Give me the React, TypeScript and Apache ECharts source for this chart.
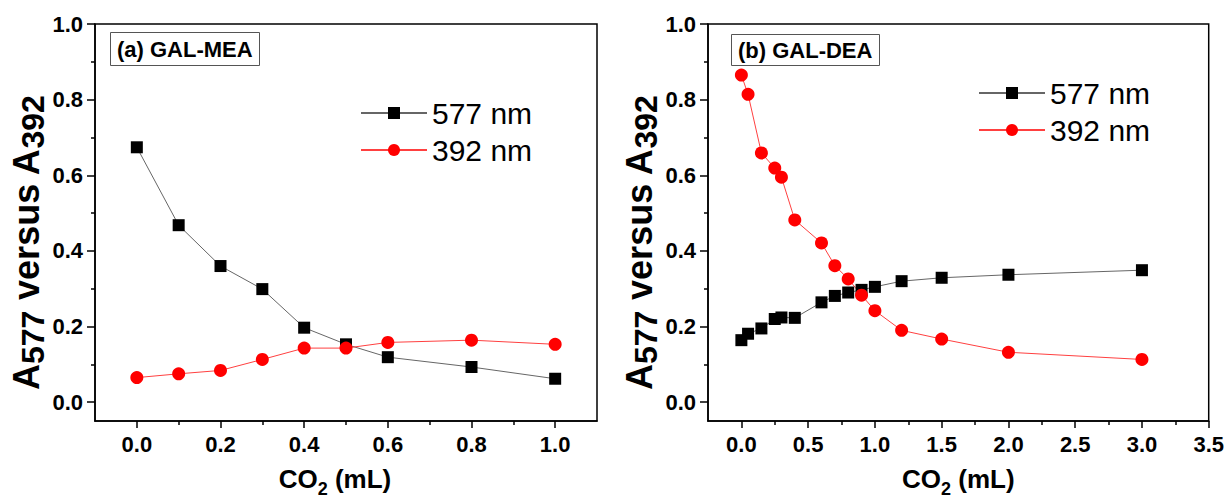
import { useEffect, useRef } from 'react';
import * as echarts from 'echarts';

const xA = [0, 0.1, 0.2, 0.3, 0.4, 0.5, 0.6, 0.8, 1.0];
const a577 = [0.674, 0.468, 0.36, 0.299, 0.197, 0.153, 0.119, 0.093, 0.062];
const a392 = [0.065, 0.075, 0.084, 0.113, 0.143, 0.143, 0.158, 0.164, 0.153];

const xB = [0, 0.05, 0.15, 0.25, 0.3, 0.4, 0.6, 0.7, 0.8, 0.9, 1.0, 1.2, 1.5, 2.0, 3.0];
const b577 = [0.164, 0.181, 0.195, 0.22, 0.224, 0.223, 0.264, 0.281, 0.29, 0.297, 0.305, 0.32, 0.329, 0.337, 0.349];
const b392 = [0.865, 0.814, 0.659, 0.619, 0.595, 0.482, 0.421, 0.361, 0.326, 0.283, 0.242, 0.19, 0.167, 0.132, 0.113];

const yTicks = [0, 0.2, 0.4, 0.6, 0.8, 1.0];
const yMinor = [0.1, 0.3, 0.5, 0.7, 0.9];
const xTicksA = [0, 0.2, 0.4, 0.6, 0.8, 1.0];
const xMinorA = [0.1, 0.3, 0.5, 0.7, 0.9];
const xTicksB = [0, 0.5, 1.0, 1.5, 2.0, 2.5, 3.0, 3.5];
const xMinorB = [0.25, 0.75, 1.25, 1.75, 2.25, 2.75, 3.25];

const seriesNames = ['577 nm', '392 nm'];
const panelTitles = ['(a) GAL-MEA', '(b) GAL-DEA'];

const FONT = "'Liberation Sans', Arial, sans-serif";

const pairs = (xs: number[], ys: number[]) => xs.map((x, i) => [x, ys[i]]);

export default function App() {
  const ref = useRef<HTMLDivElement>(null);
  useEffect(() => {
    if (!ref.current) return;
    const chart = echarts.init(ref.current, null, { renderer: 'svg' });

    const grids = [
      { left: 95, top: 24, width: 502, height: 405 },
      { left: 708, top: 24, width: 501, height: 405 },
    ];
    const xRanges = [
      { min: -0.1, max: 1.1, ticks: xTicksA, minor: xMinorA, namePad: [0, 22, 0, 0] },
      { min: -0.25, max: 3.5, ticks: xTicksB, minor: xMinorB, namePad: [0, 0, 0, 0] },
    ];

    const rich = {
      a: { fontSize: 26, fontWeight: 'bold', fontFamily: FONT, color: '#000', lineHeight: 26 },
      s: { fontSize: 18, fontWeight: 'bold', fontFamily: FONT, color: '#000', lineHeight: 18, padding: [20, 0, 0, 0] },
    };
    const richY = {
      a: { fontSize: 36, fontWeight: 'bold', fontFamily: FONT, color: '#000', lineHeight: 36 },
      s: { fontSize: 32, fontWeight: 'bold', fontFamily: FONT, color: '#000', lineHeight: 32, padding: [13, 0, 0, 0] },
    };

    const tickStyle = { color: '#000', width: 1.5 };
    const labelStyle = { fontSize: 22, fontWeight: 'bold', fontFamily: FONT, color: '#000' };

    const xAxis: any[] = [];
    const yAxis: any[] = [];
    [0, 1].forEach((g) => {
      const r = xRanges[g];
      xAxis.push({
        type: 'value', gridIndex: g, min: r.min, max: r.max, position: 'bottom',
        name: '{a|CO}{s|2}{a| (mL)}', nameLocation: 'middle', nameGap: 34,
        nameTextStyle: { rich, padding: r.namePad },
        axisLine: { show: true, onZero: false, lineStyle: { color: '#000', width: 1.5 } },
        axisTick: { show: true, length: 7, customValues: r.ticks, lineStyle: tickStyle },
        axisLabel: { show: true, customValues: r.ticks, margin: 12, ...labelStyle, formatter: (v: number) => v.toFixed(1) },
        splitLine: { show: false },
      });
      xAxis.push({
        type: 'value', gridIndex: g, min: r.min, max: r.max, position: 'bottom',
        axisLine: { show: false, onZero: false },
        axisTick: { show: true, length: 4, customValues: r.minor, lineStyle: tickStyle },
        axisLabel: { show: false },
        splitLine: { show: false },
      });
      yAxis.push({
        type: 'value', gridIndex: g, min: -0.05, max: 1.0, position: 'left',
        name: '{a|A}{s|577}{a| versus A}{s|392}', nameLocation: 'middle', nameGap: 46,
        nameTextStyle: { rich: richY, padding: [0, 40, 0, 0] },
        axisLine: { show: true, onZero: false, lineStyle: { color: '#000', width: 1.5 } },
        axisTick: { show: true, length: 8, customValues: yTicks, lineStyle: tickStyle },
        axisLabel: { show: true, customValues: yTicks, margin: 12, ...labelStyle, formatter: (v: number) => v.toFixed(1) },
        splitLine: { show: false },
      });
      yAxis.push({
        type: 'value', gridIndex: g, min: -0.05, max: 1.0, position: 'left',
        axisLine: { show: false, onZero: false },
        axisTick: { show: true, length: 4, customValues: yMinor, lineStyle: tickStyle },
        axisLabel: { show: false },
        splitLine: { show: false },
      });
    });

    const mk = (name: string, g: number, data: number[][], black: boolean) => ({
      name, type: 'line', xAxisIndex: g * 2, yAxisIndex: g * 2, data,
      symbol: black ? 'rect' : 'circle', symbolSize: black ? 12 : 13,
      itemStyle: { color: black ? '#000' : '#ff0000' },
      lineStyle: { color: black ? '#666' : '#ff4040', width: 1 },
      emphasis: { disabled: true },
    });

    const legendBase = {
      orient: 'vertical', itemWidth: 66, itemHeight: 15, itemGap: 7, data: seriesNames,
      textStyle: { fontSize: 30, fontFamily: FONT, color: '#000' },
      selectedMode: false,
    };

    const titleText = { fontSize: 22, fontWeight: 'bold', fontFamily: FONT, color: '#000' };

    chart.setOption({
      animation: false,
      backgroundColor: '#fff',
      title: [
        { text: panelTitles[0], left: 110, top: 32, padding: [6, 7], borderColor: '#555', borderWidth: 1, textStyle: titleText },
        { text: panelTitles[1], left: 731, top: 34, padding: [5, 7], borderColor: '#555', borderWidth: 1, textStyle: titleText },
      ],
      legend: [
        { ...legendBase, left: 355, top: 93 },
        { ...legendBase, left: 973, top: 73 },
      ],
      grid: grids.map((g) => ({ ...g, show: true, borderColor: '#000', borderWidth: 1.5, backgroundColor: 'transparent' })),
      xAxis,
      yAxis,
      series: [
        mk(seriesNames[0], 0, pairs(xA, a577), true),
        mk(seriesNames[1], 0, pairs(xA, a392), false),
        mk(seriesNames[0], 1, pairs(xB, b577), true),
        mk(seriesNames[1], 1, pairs(xB, b392), false),
      ],
    });
    return () => chart.dispose();
  }, []);
  return <div ref={ref} style={{ position: 'absolute', left: 0, top: 0, width: 1227, height: 503, background: '#fff' }} />;
}
